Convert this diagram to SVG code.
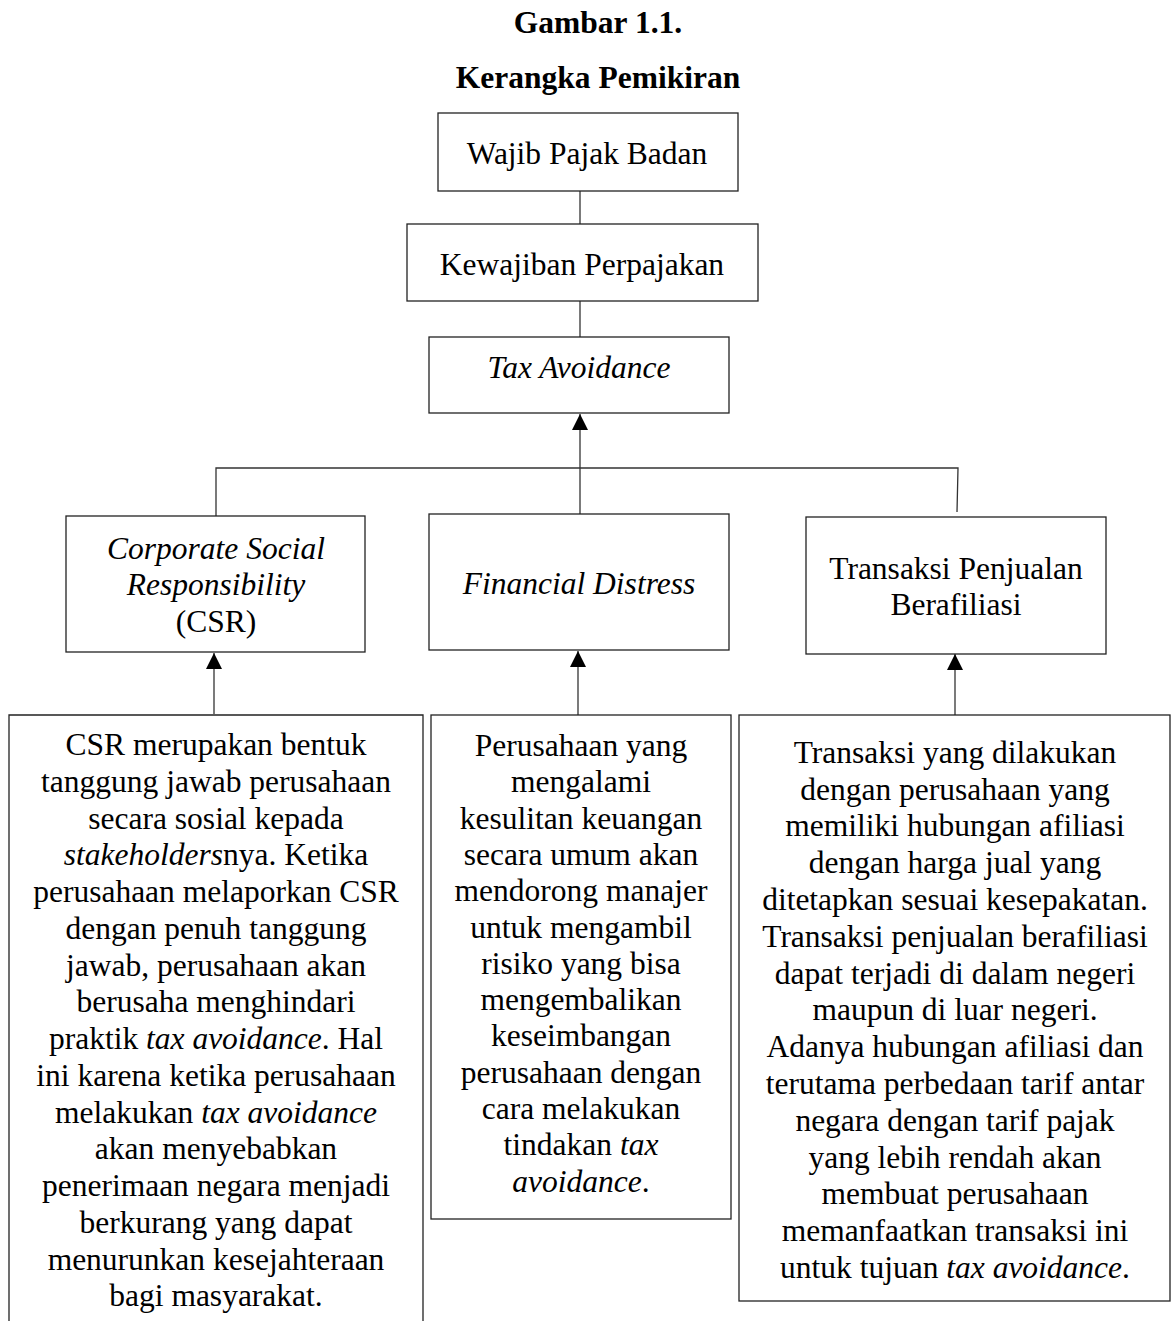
<svg xmlns="http://www.w3.org/2000/svg" width="1172" height="1321" viewBox="0 0 1172 1321">
<style>
  .box { fill: #ffffff; stroke: #222222; stroke-width: 1.3; }
  .open { fill: none; stroke: #222222; stroke-width: 1.3; }
  .conn { fill: none; stroke: #333333; stroke-width: 1.3; }
  .t { font-family: "Liberation Serif", "Times New Roman", serif; font-size: 31.5px; fill: #000000; text-anchor: middle; }
  .title { font-family: "Liberation Serif", "Times New Roman", serif; font-size: 31.5px; font-weight: bold; fill: #000000; text-anchor: middle; }
  .i { font-style: italic; }
</style>
<defs>
  <marker id="arrow" viewBox="0 0 16 16" refX="16" refY="8" markerWidth="16" markerHeight="16" markerUnits="userSpaceOnUse" orient="auto">
    <path d="M0,0 L16,8 L0,16 Z" fill="#000000"/>
  </marker>
</defs>
<rect width="1172" height="1321" fill="#ffffff"/>

<g id="title">
  <text class="title" x="598" y="33">Gambar 1.1.</text>
  <text class="title" x="598" y="88">Kerangka Pemikiran</text>
</g>

<g id="connectors">
  <line class="conn" x1="580" y1="191" x2="580" y2="224"/>
  <line class="conn" x1="580" y1="301" x2="580" y2="337"/>
  <line class="conn" x1="580" y1="514" x2="580" y2="414" marker-end="url(#arrow)"/>
  <polyline class="conn" points="216,516 216,468 958,468 957,512"/>
  <line class="conn" x1="214" y1="714" x2="214" y2="653" marker-end="url(#arrow)"/>
  <line class="conn" x1="578" y1="715" x2="578" y2="651" marker-end="url(#arrow)"/>
  <line class="conn" x1="955" y1="715" x2="955" y2="654" marker-end="url(#arrow)"/>
</g>

<g id="wajib-pajak-badan">
  <rect class="box" x="438" y="113" width="300" height="78"/>
  <text class="t" x="587" y="164">Wajib Pajak Badan</text>
</g>

<g id="kewajiban-perpajakan">
  <rect class="box" x="407" y="224" width="351" height="77"/>
  <text class="t" x="582" y="275">Kewajiban Perpajakan</text>
</g>

<g id="tax-avoidance">
  <rect class="box" x="429" y="337" width="300" height="76"/>
  <text class="t i" x="579" y="378">Tax Avoidance</text>
</g>

<g id="csr">
  <rect class="box" x="66" y="516" width="299" height="136"/>
  <text class="t" x="216" y="559"><tspan class="i">Corporate Social</tspan></text>
  <text class="t" x="216" y="595"><tspan class="i">Responsibility</tspan></text>
  <text class="t" x="216" y="632">(CSR)</text>
</g>

<g id="financial-distress">
  <rect class="box" x="429" y="514" width="300" height="136"/>
  <text class="t i" x="579" y="594">Financial Distress</text>
</g>

<g id="transaksi-penjualan-berafiliasi">
  <rect class="box" x="806" y="517" width="300" height="137"/>
  <text class="t" x="956" y="579">Transaksi Penjualan</text>
  <text class="t" x="956" y="615">Berafiliasi</text>
</g>

<g id="csr-desc">
  <path class="open" d="M9,1321 V715 H423 V1321"/>
  <text class="t" x="216" y="755">CSR merupakan bentuk</text>
  <text class="t" x="216" y="791.75">tanggung jawab perusahaan</text>
  <text class="t" x="216" y="828.5">secara sosial kepada</text>
  <text class="t" x="216" y="865.25"><tspan class="i">stakeholders</tspan>nya. Ketika</text>
  <text class="t" x="216" y="902">perusahaan melaporkan CSR</text>
  <text class="t" x="216" y="938.75">dengan penuh tanggung</text>
  <text class="t" x="216" y="975.5">jawab, perusahaan akan</text>
  <text class="t" x="216" y="1012.25">berusaha menghindari</text>
  <text class="t" x="216" y="1049">praktik <tspan class="i">tax avoidance</tspan>. Hal</text>
  <text class="t" x="216" y="1085.75">ini karena ketika perusahaan</text>
  <text class="t" x="216" y="1122.5">melakukan <tspan class="i">tax avoidance</tspan></text>
  <text class="t" x="216" y="1159.25">akan menyebabkan</text>
  <text class="t" x="216" y="1196">penerimaan negara menjadi</text>
  <text class="t" x="216" y="1232.75">berkurang yang dapat</text>
  <text class="t" x="216" y="1269.5">menurunkan kesejahteraan</text>
  <text class="t" x="216" y="1306.25">bagi masyarakat.</text>
</g>

<g id="financial-distress-desc">
  <rect class="box" x="431" y="715" width="300" height="504"/>
  <text class="t" x="581" y="756">Perusahaan yang</text>
  <text class="t" x="581" y="792.3">mengalami</text>
  <text class="t" x="581" y="828.6">kesulitan keuangan</text>
  <text class="t" x="581" y="864.9">secara umum akan</text>
  <text class="t" x="581" y="901.2">mendorong manajer</text>
  <text class="t" x="581" y="937.5">untuk mengambil</text>
  <text class="t" x="581" y="973.8">risiko yang bisa</text>
  <text class="t" x="581" y="1010.1">mengembalikan</text>
  <text class="t" x="581" y="1046.4">keseimbangan</text>
  <text class="t" x="581" y="1082.7">perusahaan dengan</text>
  <text class="t" x="581" y="1119">cara melakukan</text>
  <text class="t" x="581" y="1155.3">tindakan <tspan class="i">tax</tspan></text>
  <text class="t" x="581" y="1191.6"><tspan class="i">avoidance</tspan>.</text>
</g>

<g id="transaksi-desc">
  <rect class="box" x="739" y="715" width="431" height="586"/>
  <text class="t" x="955" y="762.7">Transaksi yang dilakukan</text>
  <text class="t" x="955" y="799.5">dengan perusahaan yang</text>
  <text class="t" x="955" y="836.3">memiliki hubungan afiliasi</text>
  <text class="t" x="955" y="873.1">dengan harga jual yang</text>
  <text class="t" x="955" y="909.9">ditetapkan sesuai kesepakatan.</text>
  <text class="t" x="955" y="946.7">Transaksi penjualan berafiliasi</text>
  <text class="t" x="955" y="983.5">dapat terjadi di dalam negeri</text>
  <text class="t" x="955" y="1020.3">maupun di luar negeri.</text>
  <text class="t" x="955" y="1057.1">Adanya hubungan afiliasi dan</text>
  <text class="t" x="955" y="1093.9">terutama perbedaan tarif antar</text>
  <text class="t" x="955" y="1130.7">negara dengan tarif pajak</text>
  <text class="t" x="955" y="1167.5">yang lebih rendah akan</text>
  <text class="t" x="955" y="1204.3">membuat perusahaan</text>
  <text class="t" x="955" y="1241.1">memanfaatkan transaksi ini</text>
  <text class="t" x="955" y="1277.9">untuk tujuan <tspan class="i">tax avoidance</tspan>.</text>
</g>
</svg>
